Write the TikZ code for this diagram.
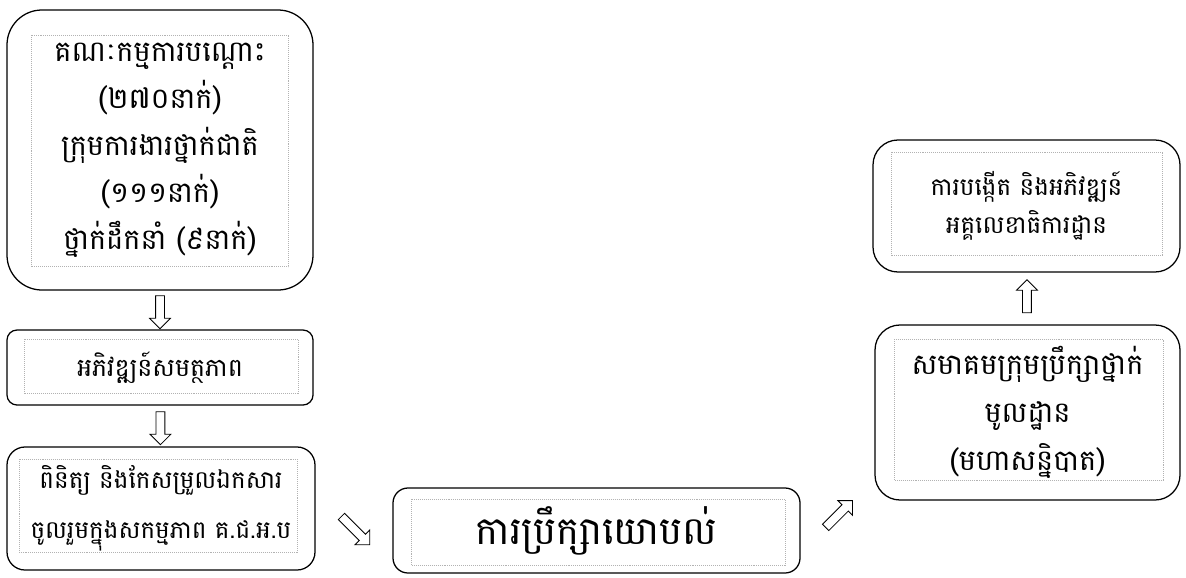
\documentclass[tikz,border=0pt]{standalone}
\usepackage{fontspec}
\newfontfamily\kh[Script=Khmer]{Battambang}
\usepackage{tikz}
\usetikzlibrary{shapes.arrows}

\tikzset{
  khbox/.style={draw, line width=0.9pt, align=center, inner sep=0pt},
  inner/.style={gray!60, densely dotted, line width=0.4pt},
  blockarrow/.style={single arrow, draw, line width=0.6pt, inner xsep=0pt, inner ysep=1mm, minimum height=8.25mm, single arrow head extend=1.5mm}
}

\begin{document}
\begin{tikzpicture}[x=0.25mm, y=-0.25mm]
\useasboundingbox (0,0) rectangle (1186,577);

% 左边的方框
\node[khbox, rounded corners=8.75mm, minimum width=76.5mm, minimum height=70mm, font=\kh\fontsize{20.5}{33.4}\selectfont] (committee) at (160,150) {គណៈកម្មការបណ្ដោះ\\(២៧០នាក់)\\ក្រុមការងារថ្នាក់ជាតិ\\(១១១នាក់)\\ថ្នាក់ដឹកនាំ (៩នាក់)};
\node[khbox, rounded corners=2.5mm, minimum width=76.5mm, minimum height=18.75mm, font=\kh\fontsize{18}{20}\selectfont] (capacity) at (160,367.5) {អភិវឌ្ឍន៍សមត្ថភាព};
\node[khbox, rounded corners=4.5mm, minimum width=77mm, minimum height=30.75mm, font=\kh\fontsize{17.5}{35.6}\selectfont] (review) at (161,508.5) {ពិនិត្យ និងកែសម្រួលឯកសារ\\ចូលរួមក្នុងសកម្មភាព គ.ជ.អ.ប};

% 中间和右边
\node[khbox, rounded corners=3.75mm, minimum width=101.75mm, minimum height=21.25mm, font=\kh\fontsize{27.5}{30}\selectfont] (consult) at (596.5,530.5) {ការប្រឹក្សាយោបល់};
\node[khbox, rounded corners=6.25mm, minimum width=76.25mm, minimum height=43.75mm, font=\kh\fontsize{20.5}{34.1}\selectfont] (assembly) at (1027.5,412.5) {សមាគមក្រុមប្រឹក្សាថ្នាក់\\មូលដ្ឋាន\\(មហាសន្និបាត)};
\node[khbox, rounded corners=6.25mm, minimum width=76.75mm, minimum height=33mm, font=\kh\fontsize{17.5}{27}\selectfont] (secretariat) at (1026.5,206) {ការបង្កើត និងអភិវឌ្ឍន៍\\អគ្គលេខាធិការដ្ឋាន};

% 里面的虚线框
\draw[inner] ([xshift=6.25mm, yshift=-6.5mm]committee.north west) rectangle ([xshift=-6.25mm, yshift=6mm]committee.south east);
\draw[inner] ([xshift=4.5mm, yshift=-2.5mm]capacity.north west) rectangle ([xshift=-3.75mm, yshift=3mm]capacity.south east);
\draw[inner] ([xshift=3.25mm, yshift=-3.25mm]review.north west) rectangle ([xshift=-4.5mm, yshift=4.5mm]review.south east);
\draw[inner] ([xshift=4.75mm, yshift=-3mm]consult.north west) rectangle ([xshift=-3.75mm, yshift=2mm]consult.south east);
\draw[inner] ([xshift=5mm, yshift=-3.75mm]assembly.north west) rectangle ([xshift=-4.25mm, yshift=5mm]assembly.south east);
\draw[inner] ([xshift=4.75mm, yshift=-3.25mm]secretariat.north west) rectangle ([xshift=-4.5mm, yshift=4.25mm]secretariat.south east);

% 箭头
\path (committee) -- (capacity) node[midway, blockarrow, rotate=-90] (arrA) {};
\path (capacity) -- (review) node[midway, blockarrow, rotate=-90] (arrB) {};
\path (review.south east) -- (consult.north west) node[midway, blockarrow, rotate=-45, minimum height=10mm] (arrC) {};
\path (consult.east) -- (assembly.south west) node[midway, blockarrow, rotate=45, minimum height=9.5mm] (arrD) {};
\path (assembly) -- (secretariat) node[midway, blockarrow, rotate=90] (arrE) {};

\end{tikzpicture}
\end{document}
